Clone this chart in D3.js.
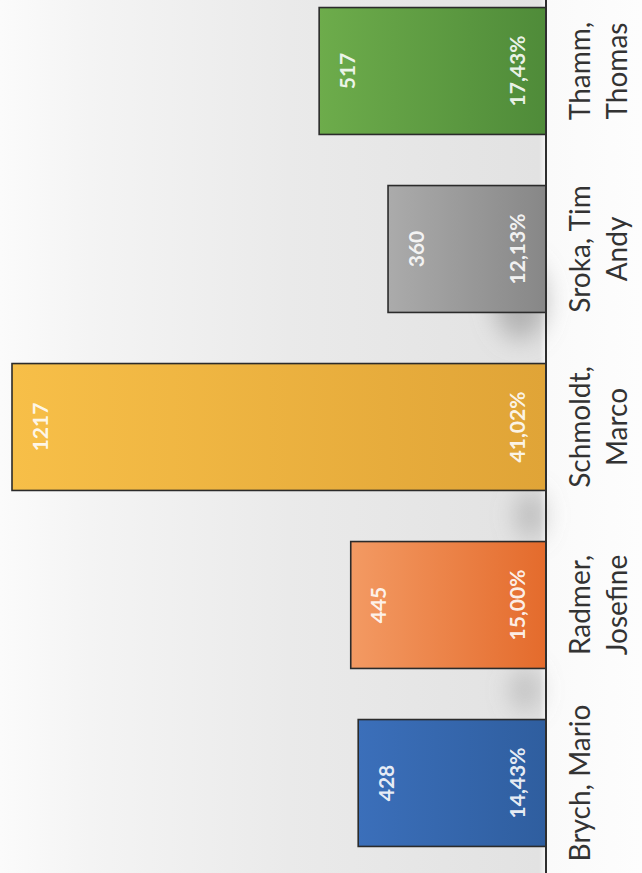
<!DOCTYPE html>
<html>
<head>
<meta charset="utf-8">
<script src="https://cdn.jsdelivr.net/npm/d3@7"></script>
<style>
  body { margin: 0; background: #fbfbfb; }
  svg { display: block; }
</style>
</head>
<body>
<div id="chart"></div>
<script>
var names = ["Brych, Mario", "Radmer, Josefine", "Schmoldt, Marco", "Sroka, Tim Andy", "Thamm, Thomas"];
var nameLines = [["Brych, Mario"], ["Radmer,", "Josefine"], ["Schmoldt,", "Marco"], ["Sroka, Tim", "Andy"], ["Thamm,", "Thomas"]];
var votes = [428, 445, 1217, 360, 517];
var shares = ["14,43%", "15,00%", "41,02%", "12,13%", "17,43%"];
var colorsLight = ["#3b6fba", "#f39a63", "#f7bf48", "#ababab", "#6dac4b"];
var colorsDark = ["#2f5e9f", "#e46b2c", "#e0a437", "#878787", "#4f8b39"];

var svgWidth = 642;
var svgHeight = 873;
var baseX = 546;

var data = names.map(function(n, i) {
  return { name: n, lines: nameLines[i], votes: votes[i], share: shares[i], i: i };
});

var svg = d3.select("#chart")
  .append("svg")
  .attr("width", svgWidth)
  .attr("height", svgHeight);

var defs = svg.append("defs");

// paper background of the scan
var bg = defs.append("linearGradient").attr("id", "paper")
  .attr("x1", 0).attr("x2", 1).attr("y1", 0).attr("y2", 0);
bg.append("stop").attr("offset", "0%").attr("stop-color", "#fbfbfb");
bg.append("stop").attr("offset", "14%").attr("stop-color", "#f4f4f4");
bg.append("stop").attr("offset", "45%").attr("stop-color", "#eaeaea");
bg.append("stop").attr("offset", "84%").attr("stop-color", "#e2e2e2");
bg.append("stop").attr("offset", "85.2%").attr("stop-color", "#fafafa");
bg.append("stop").attr("offset", "100%").attr("stop-color", "#fdfdfd");

svg.append("rect")
  .attr("width", svgWidth)
  .attr("height", svgHeight)
  .attr("fill", "url(#paper)");

// soft shadows from the scanner next to the baseline
defs.append("filter").attr("id", "blur")
  .attr("x", "-50%").attr("y", "-50%").attr("width", "200%").attr("height", "200%")
  .append("feGaussianBlur").attr("stdDeviation", 12);

var smudges = svg.append("g").attr("filter", "url(#blur)").attr("fill", "#8a8a8a");
smudges.append("ellipse").attr("cx", 520).attr("cy", 300).attr("rx", 26).attr("ry", 40).attr("opacity", 0.55);
smudges.append("ellipse").attr("cx", 530).attr("cy", 515).attr("rx", 14).attr("ry", 24).attr("opacity", 0.45);
smudges.append("ellipse").attr("cx", 525).attr("cy", 690).attr("rx", 14).attr("ry", 22).attr("opacity", 0.4);

// bar gradients, light at the bar end, dark at the base
data.forEach(function(d) {
  var g = defs.append("linearGradient").attr("id", "bar" + d.i)
    .attr("x1", 0).attr("x2", 1).attr("y1", 0).attr("y2", 0);
  g.append("stop").attr("offset", "0%").attr("stop-color", colorsLight[d.i]);
  g.append("stop").attr("offset", "100%").attr("stop-color", colorsDark[d.i]);
});

// value axis runs right to left (chart is turned a quarter)
var xScale = d3.scaleLinear()
  .domain([0, d3.max(votes)])
  .range([baseX, 12]);

var yScale = d3.scaleBand()
  .domain(names.slice().reverse())
  .range([-18, 872])
  .paddingInner(0.287)
  .paddingOuter(0.1435);

// bars
svg.selectAll(".bar")
  .data(data)
  .enter()
  .append("rect")
  .attr("class", "bar")
  .attr("x", d => xScale(d.votes))
  .attr("y", d => yScale(d.name))
  .attr("width", d => xScale(0) - xScale(d.votes))
  .attr("height", yScale.bandwidth())
  .attr("fill", d => "url(#bar" + d.i + ")")
  .attr("stroke", "#2b2b2b")
  .attr("stroke-width", 1.6);

// baseline
svg.append("line")
  .attr("x1", baseX).attr("x2", baseX)
  .attr("y1", 0).attr("y2", svgHeight)
  .attr("stroke", "#2e2e2e")
  .attr("stroke-width", 2);

// vote counts near the bar end
svg.selectAll(".count")
  .data(data)
  .enter()
  .append("text")
  .attr("class", "count")
  .attr("transform", d => `translate(${xScale(d.votes) + 28}, ${yScale(d.name) + yScale.bandwidth() / 2}) rotate(-90)`)
  .attr("dy", "0.36em")
  .attr("text-anchor", "middle")
  .style("font-family", "Lato, 'Open Sans', sans-serif")
  .style("font-weight", "bold")
  .style("font-size", "21px")
  .style("fill", "#ffffff")
  .style("fill-opacity", 0.88)
  .text(d => d.votes);

// shares near the base
svg.selectAll(".share")
  .data(data)
  .enter()
  .append("text")
  .attr("class", "share")
  .attr("transform", d => `translate(${baseX - 29}, ${yScale(d.name) + yScale.bandwidth() / 2}) rotate(-90)`)
  .attr("dy", "0.36em")
  .attr("text-anchor", "middle")
  .style("font-family", "Lato, 'Open Sans', sans-serif")
  .style("font-weight", "bold")
  .style("font-size", "21px")
  .style("fill", "#ffffff")
  .style("fill-opacity", 0.9)
  .text(d => d.share);

// category labels
var labels = svg.selectAll(".name")
  .data(data)
  .enter()
  .append("text")
  .attr("class", "name")
  .attr("transform", d => `translate(590, ${yScale(d.name) + yScale.bandwidth() / 2}) rotate(-90)`)
  .attr("text-anchor", "middle")
  .style("font-family", "Lato, 'Open Sans', sans-serif")
  .style("font-size", "28px")
  .style("fill", "#333333");

labels.selectAll("tspan")
  .data(d => d.lines)
  .enter()
  .append("tspan")
  .attr("x", 0)
  .attr("y", (t, j) => j * 37)
  .text(t => t);
</script>
</body>
</html>
